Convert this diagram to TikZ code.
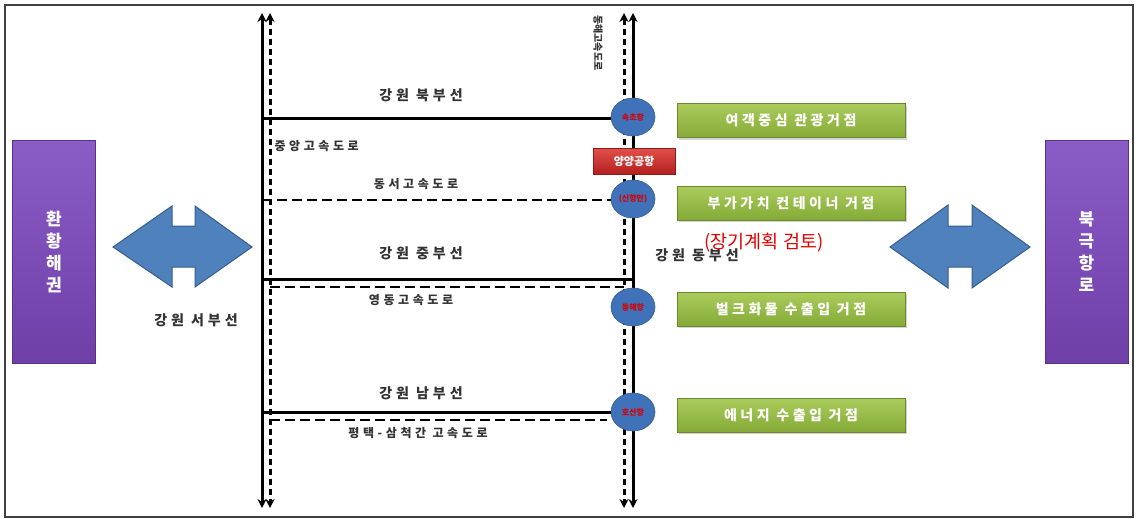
\documentclass[tikz,border=0pt]{standalone}
\usepackage{fontspec}
\setmainfont{Noto Sans CJK KR}
\usetikzlibrary{arrows.meta,shapes.geometric,shadows}
\definecolor{arrowblue}{HTML}{4F81BD}
\definecolor{arrowedge}{HTML}{385D8A}
\definecolor{portblue}{HTML}{3F72B8}
\definecolor{greentop}{HTML}{A9CC5C}
\definecolor{greenbot}{HTML}{86AA37}
\definecolor{purptop}{HTML}{8A5CC6}
\definecolor{purpbot}{HTML}{6F3FA8}
\definecolor{redtop}{HTML}{E2504B}
\definecolor{redbot}{HTML}{B3201E}
\tikzset{
  road/.style={line width=3pt,black},
  droad/.style={line width=3pt,black,dash pattern=on 6pt off 4pt},
  hdroad/.style={line width=2.6pt,black,dash pattern=on 10pt off 5pt},
  tips/.style={{Stealth[length=9pt,width=9pt]}-{Stealth[length=9pt,width=9pt]}},
  lbl/.style={font=\fontsize{14}{16}\selectfont\bfseries\addfontfeature{LetterSpace=28}, text=black!80},
  slbl/.style={font=\fontsize{12}{14}\selectfont\bfseries\addfontfeature{LetterSpace=30}, text=black!80},
  port/.style={ellipse, fill=portblue, draw=arrowedge, line width=0.6pt, minimum width=44pt, minimum height=38pt, inner sep=0pt, text=red!85!black, font=\fontsize{8}{9}\selectfont\bfseries},
  hub/.style={draw=greenbot!80!black, line width=0.6pt, top color=greentop, bottom color=greenbot, minimum width=228pt, minimum height=34pt, text=white, font=\fontsize{14}{16}\selectfont\bfseries\addfontfeature{LetterSpace=25}, drop shadow={opacity=0.35, shadow xshift=2pt, shadow yshift=-2pt}},
  region/.style={draw=purpbot!80!black, line width=0.6pt, top color=purptop, bottom color=purpbot, minimum width=83pt, minimum height=223pt, text=white, align=center, font=\fontsize{17}{22}\selectfont\bfseries},
  airport/.style={draw=redbot!80!black, line width=0.6pt, top color=redtop, bottom color=redbot, minimum width=82pt, minimum height=26pt, text=white, font=\fontsize{11}{12}\selectfont\bfseries},
  bigarrow/.style={fill=arrowblue, draw=arrowedge, line width=1pt, line join=miter}
}
\begin{document}
\begin{tikzpicture}[x=1pt,y=-1pt]
\useasboundingbox (0,0) rectangle (1138,519);
\draw[black!75, line width=1.3pt] (5,5) rectangle (1133,517);

% region boxes
\node[region] (west) at (54,251.5) {환\\황\\해\\권};
\node[region] (north) at (1086.5,251.5) {북\\극\\항\\로};

% big double arrows
\draw[bigarrow] (113,247) -- (172,206) -- (172,226) -- (195,226) -- (195,206) -- (252,247) -- (195,287) -- (195,267) -- (172,267) -- (172,287) -- cycle;
\draw[bigarrow] (890,247) -- (948,205) -- (948,226) -- (972,226) -- (972,205) -- (1030,247) -- (972,288) -- (972,267) -- (948,267) -- (948,288) -- cycle;

% vertical roads
\coordinate (LsT) at (262,13); \coordinate (LsB) at (262,508);
\coordinate (LdT) at (270,13); \coordinate (LdB) at (270,508);
\coordinate (RdT) at (624,13); \coordinate (RdB) at (624,508);
\coordinate (RsT) at (633,13); \coordinate (RsB) at (633,508);
\draw[road,tips] (LsT) -- (LsB);
\draw[droad,tips] (LdT) -- (LdB);
\draw[droad,tips] (RdT) -- (RdB);
\draw[road,tips] (RsT) -- (RsB);

% ports
\node[port] (p1) at (633,117) {속초항};
\node[port] (p2) at (633,199) {(신항만)};
\node[port] (p3) at (633,307) {동해항};
\node[port] (p4) at (633,412) {호산항};

% horizontal roads
\coordinate (h1) at (262,118);
\coordinate (h2) at (262,200);
\coordinate (h3) at (262,279);
\coordinate (h4) at (270,287);
\coordinate (h5) at (262,412);
\coordinate (h6) at (270,420);
\draw[road] (h1) -- (h1 -| p1.west);
\draw[hdroad] (h2) -- (h2 -| p2.west);
\draw[road] (h3) -- (h3 -| RsT);
\draw[hdroad] (h4) -- (h4 -| RdT);
\draw[road] (h5) -- (h5 -| p4.west);
\draw[hdroad] (h6) -- ([xshift=-4pt]h6 -| p4.west);

% airport
\node[airport] (air) at (634,161) {양양공항};

% hubs
\node[hub] (g1) at (791,120.5) {여객중심 관광거점};
\node[hub] (g2) at (791,203) {부가가치 컨테이너 거점};
\node[hub] (g3) at (791,309) {벌크화물 수출입 거점};
\node[hub] (g4) at (791,415) {에너지 수출입 거점};

% labels
\node[lbl] (t1) at (421,95) {강원 북부선};
\node[slbl, anchor=west] (t2) at (271,146) {중앙고속도로};
\node[slbl] (t3) at (416,184) {동서고속도로};
\node[lbl] (t4) at (421,253) {강원 중부선};
\node[slbl] (t5) at (411,300) {영동고속도로};
\node[lbl] (t6) at (421,393) {강원 남부선};
\node[slbl] (t7) at (418,433) {평택-삼척간 고속도로};
\node[lbl] (t8) at (196,320) {강원 서부선};
\node[lbl] (t9) at (697,255) {강원 동부선};
\node[text=red!90!black, font=\fontsize{18.5}{20}\selectfont] (t10) at (764,243) {(장기계획 검토)};
\node[font=\fontsize{10}{11}\selectfont\bfseries, rotate=-90, text=black!80] (t11) at (598,43) {동해고속도로};
\end{tikzpicture}
\end{document}
